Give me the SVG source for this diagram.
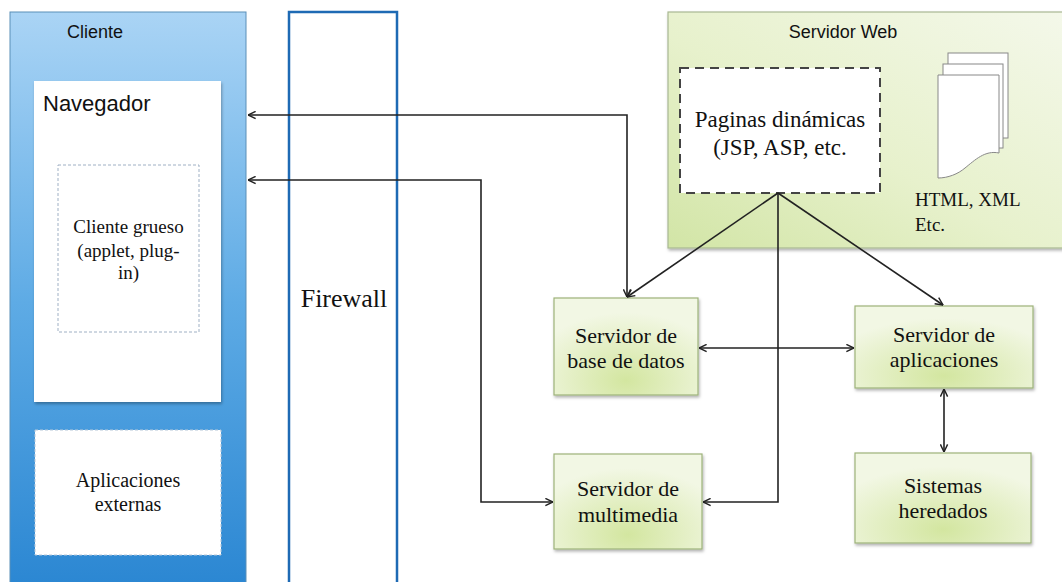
<svg xmlns="http://www.w3.org/2000/svg" width="1062" height="582" viewBox="0 0 1062 582">
<defs>
<linearGradient id="gClient" x1="0" y1="0" x2="0" y2="1">
<stop offset="0" stop-color="#aad4f5"/>
<stop offset="0.5" stop-color="#5eabe5"/>
<stop offset="1" stop-color="#2a86d2"/>
</linearGradient>
<linearGradient id="gWeb" x1="0" y1="1" x2="1" y2="0">
<stop offset="0" stop-color="#d2e5a6"/>
<stop offset="0.45" stop-color="#e7f1cc"/>
<stop offset="1" stop-color="#f4f8ea"/>
</linearGradient>
<radialGradient id="gBox" cx="0.5" cy="0.85" r="0.7">
<stop offset="0" stop-color="#d3e6a0"/>
<stop offset="1" stop-color="#f2f7e4"/>
</radialGradient>
<filter id="sh" x="-10%" y="-10%" width="120%" height="120%">
<feDropShadow dx="1" dy="2" stdDeviation="1.5" flood-color="#000" flood-opacity="0.3"/>
</filter>
<marker id="ar" viewBox="0 0 10 10" refX="9.5" refY="5" markerWidth="9" markerHeight="9" markerUnits="userSpaceOnUse" orient="auto-start-reverse">
<path d="M1,1 L9.5,5 L1,9" fill="none" stroke="#222" stroke-width="1.6"/>
</marker>
</defs>
<style>
.sans{font-family:"Liberation Sans",Arial,sans-serif;fill:#111}
.serif{font-family:"Liberation Serif","Times New Roman",serif;fill:#111}
.mid{text-anchor:middle}
.gbox{fill:url(#gBox);stroke:#9db27a;stroke-width:1.2;filter:url(#sh)}
.conn{fill:none;stroke:#222;stroke-width:1.6}
</style>
<rect width="1062" height="582" fill="#ffffff"/>

<g id="cliente">
<rect x="10" y="12" width="236" height="580" fill="url(#gClient)" stroke="#5a8fb8" stroke-width="1"/>
<text class="sans" x="67" y="38" font-size="18">Cliente</text>
</g>
<g id="navegador">
<rect x="34" y="81" width="187" height="321" fill="#ffffff" filter="url(#sh)"/>
<text class="sans" x="43" y="111" font-size="22">Navegador</text>
</g>
<g id="cliente-grueso">
<rect x="58" y="165" width="141" height="167" fill="#ffffff" stroke="#9fb0c4" stroke-width="1" stroke-dasharray="3,2"/>
<text class="serif mid" x="128.5" y="233" font-size="19">Cliente grueso</text>
<text class="serif mid" x="128.5" y="257" font-size="19">(applet, plug-</text>
<text class="serif mid" x="128.5" y="279" font-size="19">in)</text>
</g>
<g id="aplicaciones-externas">
<rect x="35" y="430" width="186" height="125" fill="#ffffff" stroke="#b7c7d8" stroke-width="1" stroke-dasharray="3,2"/>
<text class="serif mid" x="128" y="487" font-size="20">Aplicaciones</text>
<text class="serif mid" x="128" y="511" font-size="20">externas</text>
</g>

<g id="firewall">
<rect x="289" y="12" width="108" height="580" fill="#ffffff" stroke="#1e6ab4" stroke-width="2.5"/>
<text class="serif mid" x="344" y="307" font-size="26">Firewall</text>
</g>

<g id="servidor-web">
<rect x="668" y="12" width="400" height="236" fill="url(#gWeb)" stroke="#a9b893" stroke-width="1.2" filter="url(#sh)"/>
<text class="sans mid" x="843" y="38" font-size="18">Servidor Web</text>
</g>
<g id="paginas-dinamicas">
<rect x="680" y="68" width="200" height="125" fill="#ffffff" stroke="#444" stroke-width="2" stroke-dasharray="9,6"/>
<text class="serif mid" x="780" y="127" font-size="23">Paginas dinámicas</text>
<text class="serif mid" x="780" y="155" font-size="23">(JSP, ASP, etc.</text>
</g>
<g id="documentos">
<rect x="948" y="53" width="60" height="85" fill="#ffffff" stroke="#888" stroke-width="1"/>
<rect x="943" y="64" width="60" height="84" fill="#ffffff" stroke="#888" stroke-width="1"/>
<path d="M938,75 L999,75 L999,153 C985,150 975,160 965,168 C958,174 948,178 938,178 Z" fill="#ffffff" stroke="#888" stroke-width="1"/>
<text class="serif" x="915" y="206" font-size="19">HTML, XML</text>
<text class="serif" x="915" y="231" font-size="19">Etc.</text>
</g>

<g id="servidor-bd">
<rect class="gbox" x="554" y="298" width="144" height="97"/>
<text class="serif mid" x="626" y="343" font-size="22">Servidor de</text>
<text class="serif mid" x="626" y="368" font-size="22">base de datos</text>
</g>
<g id="servidor-aplicaciones">
<rect class="gbox" x="855" y="306" width="178" height="82"/>
<text class="serif mid" x="944" y="342" font-size="22">Servidor de</text>
<text class="serif mid" x="944" y="367" font-size="22">aplicaciones</text>
</g>
<g id="servidor-multimedia">
<rect class="gbox" x="554" y="454" width="148" height="95"/>
<text class="serif mid" x="628" y="496" font-size="22">Servidor de</text>
<text class="serif mid" x="628" y="522" font-size="22">multimedia</text>
</g>
<g id="sistemas-heredados">
<rect class="gbox" x="855" y="453" width="176" height="90"/>
<text class="serif mid" x="943" y="493" font-size="22">Sistemas</text>
<text class="serif mid" x="943" y="518" font-size="22">heredados</text>
</g>

<g id="connectors">
<polyline class="conn" points="248,115 627,115 627,297" marker-start="url(#ar)" marker-end="url(#ar)"/>
<polyline class="conn" points="248,180 481,180 481,502 553,502" marker-start="url(#ar)" marker-end="url(#ar)"/>
<line class="conn" x1="778" y1="193" x2="627" y2="297" marker-end="url(#ar)"/>
<line class="conn" x1="778" y1="193" x2="943" y2="305" marker-end="url(#ar)"/>
<polyline class="conn" points="778,193 778,502 703,502" marker-end="url(#ar)"/>
<line class="conn" x1="699" y1="348" x2="854" y2="348" marker-start="url(#ar)" marker-end="url(#ar)"/>
<line class="conn" x1="944" y1="389" x2="944" y2="452" marker-start="url(#ar)" marker-end="url(#ar)"/>
</g>
</svg>
